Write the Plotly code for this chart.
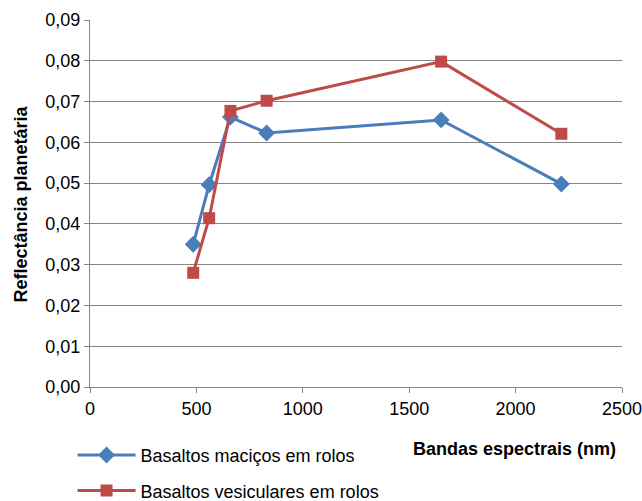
import plotly.graph_objects as go

bands = [485, 560, 660, 830, 1650, 2215]
macicos = [0.0350, 0.0496, 0.0662, 0.0623, 0.0655, 0.0498]
vesiculares = [0.0280, 0.0414, 0.0677, 0.0702, 0.0798, 0.0621]

x_ticks = [0, 500, 1000, 1500, 2000, 2500]
y_ticks = [0, 0.01, 0.02, 0.03, 0.04, 0.05, 0.06, 0.07, 0.08, 0.09]
y_labels = ["0,00", "0,01", "0,02", "0,03", "0,04", "0,05", "0,06", "0,07", "0,08", "0,09"]

font = "Liberation Sans, Arial, sans-serif"

fig = go.Figure()
fig.add_trace(go.Scatter(
    x=bands, y=macicos, name="Basaltos maciços em rolos", mode="lines+markers",
    line=dict(color="#4A7EBB", width=3),
    marker=dict(symbol="diamond", size=13, color="#4A7EBB"),
    legendgroup="a",
))
fig.add_trace(go.Scatter(
    x=bands, y=vesiculares, name="Basaltos vesiculares em rolos", mode="lines+markers",
    line=dict(color="#BE4B48", width=3),
    marker=dict(symbol="square", size=12, color="#BE4B48"),
    legendgroup="b",
))

fig.update_layout(
    width=642, height=501,
    margin=dict(l=90, r=20, t=20, b=114, autoexpand=False),
    paper_bgcolor="white", plot_bgcolor="white",
    separators=", ",
    font=dict(family=font, size=18, color="#000000"),
    showlegend=True,
    legend=dict(x=0.113, y=0.128, xref="container", yref="container",
                xanchor="left", yanchor="top",
                orientation="v", tracegroupgap=9, font=dict(size=18),
                bgcolor="rgba(0,0,0,0)", itemwidth=58),
    xaxis=dict(range=[0, 2500], tickvals=x_ticks, showgrid=False,
               showline=True, linecolor="#868686", linewidth=1,
               ticks="outside", tickcolor="#868686", ticklen=5,
               tickfont=dict(size=18), zeroline=False, automargin=False,
               ticklabeloverflow="allow"),
    yaxis=dict(range=[0, 0.09], tickvals=y_ticks, ticktext=y_labels,
               showgrid=True, gridcolor="#868686", gridwidth=1,
               showline=True, linecolor="#868686", linewidth=1,
               ticks="outside", tickcolor="#868686", ticklen=5,
               tickfont=dict(size=18), zeroline=False, automargin=False,
               ticklabeloverflow="allow"),
    annotations=[
        dict(text="<b>Bandas espectrais (nm)</b>", xref="paper", yref="paper",
             x=0.992, y=-0.136, xanchor="right", yanchor="top",
             showarrow=False, font=dict(size=18)),
        dict(text="<b>Reflectância planetária</b>", xref="paper", yref="paper",
             x=-0.1297, y=0.5, xanchor="center", yanchor="middle", textangle=-90,
             showarrow=False, font=dict(size=18)),
    ],
)

fig.write_html("out.html", config={"displayModeBar": False},
               post_script="document.body.style.margin='0';")
